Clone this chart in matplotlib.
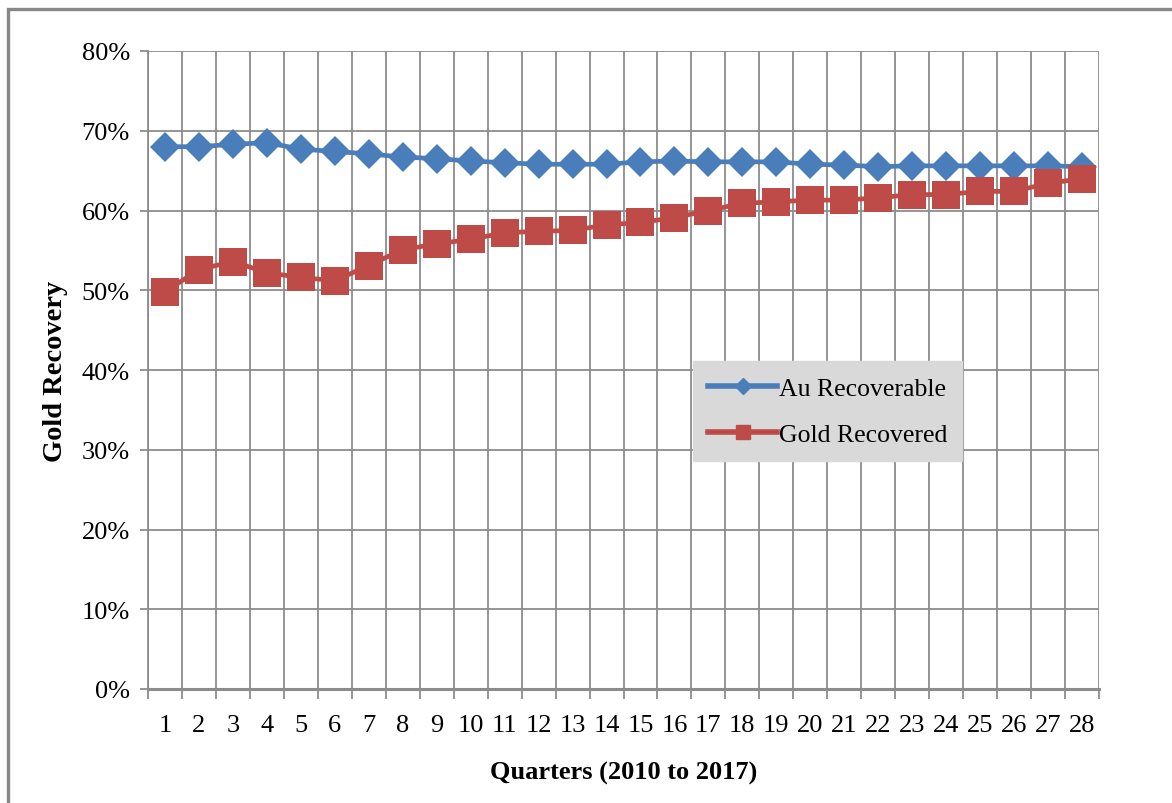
import numpy as np
import matplotlib.pyplot as plt
from matplotlib.lines import Line2D
from matplotlib.patches import Rectangle
from matplotlib.ticker import FixedLocator, PercentFormatter

quarters = list(range(1, 29))
au_recoverable = [68.0, 68.0, 68.3, 68.5, 67.7, 67.4, 67.1, 66.7, 66.5, 66.2,
                  66.0, 65.8, 65.8, 65.8, 66.1, 66.2, 66.1, 66.1, 66.1, 65.8,
                  65.7, 65.5, 65.6, 65.6, 65.6, 65.6, 65.6, 65.5]
gold_recovered = [49.8, 52.6, 53.6, 52.2, 51.6, 51.2, 53.1, 55.1, 55.8, 56.4,
                  57.2, 57.4, 57.5, 58.2, 58.5, 59.1, 60.0, 60.9, 61.1, 61.3,
                  61.3, 61.6, 62.0, 62.0, 62.4, 62.4, 63.4, 64.0]
y_ticks = [0, 10, 20, 30, 40, 50, 60, 70, 80]

blue = '#4a7ebb'
red = '#be4b48'
grid_col = '#8c8c8c'
serif = 'Liberation Serif'

fig = plt.figure(figsize=(11.72, 8.04), dpi=100)
ax = fig.add_axes([148/1172, 1 - 690/804, (1099-148)/1172, (690-52)/804])

# outer frame of the chart area (only top/left visible in the crop)
fig.patches.append(Rectangle((8/1172, -0.1), 1.2, 1 - 9.5/804 + 0.1,
                             transform=fig.transFigure, fill=False,
                             edgecolor='#888888', linewidth=2.4))

ax.plot(quarters, au_recoverable, color=blue, linewidth=3.4, marker='D',
        markersize=15.5, markeredgewidth=0, zorder=3)
ax.plot(quarters, gold_recovered, color=red, linewidth=3.4, marker='s',
        markersize=19.5, markeredgewidth=0, zorder=4)

ax.set_xlim(0.5, 28.5)
ax.set_ylim(0, 80)
ax.set_yticks(y_ticks)
ax.yaxis.set_major_formatter(PercentFormatter(decimals=0))
ax.set_xticks(quarters)
ax.set_xticklabels([str(q) for q in quarters])
ax.xaxis.set_minor_locator(FixedLocator(np.arange(0.5, 29, 1)))

ax.grid(True, axis='y', which='major', color=grid_col, linewidth=1.3)
ax.grid(True, axis='x', which='minor', color=grid_col, linewidth=1.3)
ax.set_axisbelow(True)

for s in ['top', 'right']:
    ax.spines[s].set_visible(False)
ax.spines['left'].set_color(grid_col)
ax.spines['left'].set_linewidth(1.3)
ax.spines['bottom'].set_color(grid_col)
ax.spines['bottom'].set_linewidth(2.2)

ax.tick_params(axis='x', which='major', length=0, pad=18)
ax.tick_params(axis='x', which='minor', length=7, width=1.3, color=grid_col, direction='out')
ax.tick_params(axis='y', length=6, width=1.3, color=grid_col, pad=7)
for lab in ax.get_xticklabels() + ax.get_yticklabels():
    lab.set_fontfamily(serif)
    lab.set_fontsize(19)

ax.set_ylabel('Gold Recovery', fontfamily=serif, fontsize=20.5, fontweight='bold', labelpad=10)
ax.set_xlabel('Quarters (2010 to 2017)', fontfamily=serif, fontsize=19, fontweight='bold', labelpad=18)

handles = [Line2D([], [], color=blue, linewidth=4, marker='D', markersize=8),
           Line2D([], [], color=red, linewidth=4, marker='s', markersize=10)]
leg = ax.legend(handles, ['Au Recoverable', 'Gold Recovered'],
                loc='center', bbox_to_anchor=(0.575, 0.351, 0.279, 0.169),
                prop={'family': serif, 'size': 18.5}, frameon=True, fancybox=False,
                facecolor='#d9d9d9', edgecolor='#d9d9d9', framealpha=1,
                handlelength=2.7, handletextpad=0.05, labelspacing=0.9,
                borderpad=0.6, borderaxespad=0)
leg.set_zorder(5)

fig.savefig('out.png', dpi=100)
